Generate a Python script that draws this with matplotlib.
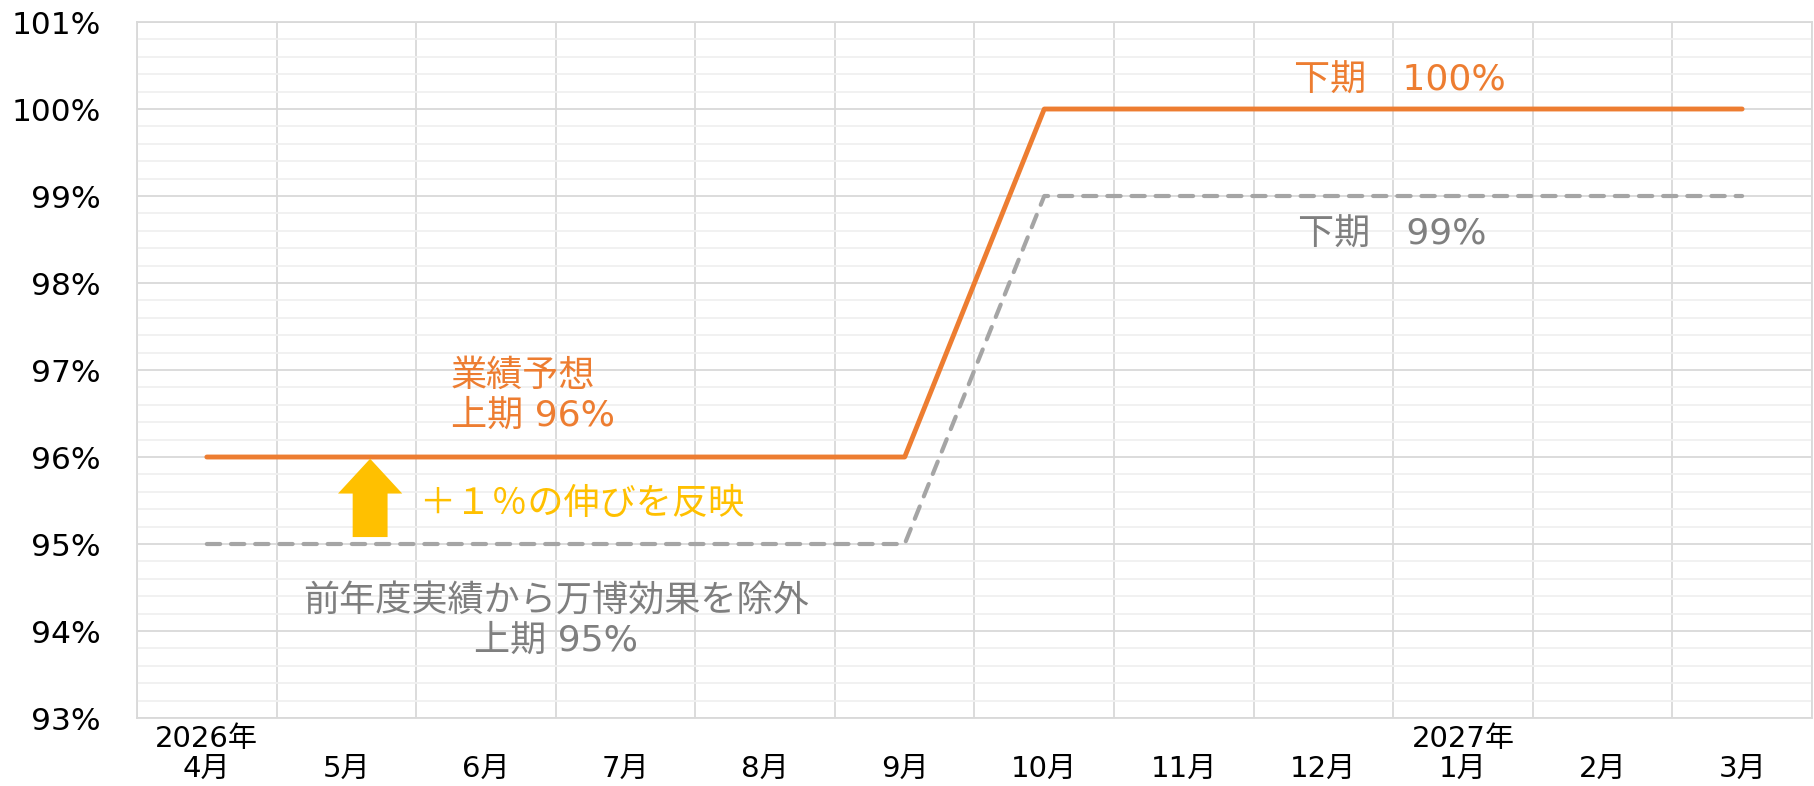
import numpy as np
import matplotlib
matplotlib.use('Agg')
import matplotlib.pyplot as plt
from matplotlib.ticker import MultipleLocator, FuncFormatter

# cyfry w stylu Verdana (DejaVu), znaki japońskie z Noto CJK
plt.rcParams['font.family'] = ['DejaVu Sans', 'Noto Sans CJK JP']

# --- dane ---
months = ['4月', '5月', '6月', '7月', '8月', '9月',
          '10月', '11月', '12月', '1月', '2月', '3月']
years = ['2026年', '', '', '', '', '', '', '', '', '2027年', '', '']
forecast = [96, 96, 96, 96, 96, 96, 100, 100, 100, 100, 100, 100]
prev_year = [95, 95, 95, 95, 95, 95, 99, 99, 99, 99, 99, 99]

ORANGE = '#ED7D31'
GREY_LINE = '#A5A5A5'
GREY_TEXT = '#7F7F7F'
YELLOW = '#FFC000'

fig = plt.figure(figsize=(18.15, 7.86), dpi=100)
ax = fig.add_axes([0.0755, 0.0865, 0.9228, 0.8855])

x = np.arange(len(months)) + 0.5

ax.plot(x, forecast, color=ORANGE, lw=3.5, solid_capstyle='round', zorder=3)
ax.plot(x, prev_year, color=GREY_LINE, lw=3.0, dashes=(3.2, 2.6),
        dash_capstyle='round', zorder=3)

ax.set_xlim(0, 12)
ax.set_ylim(93, 101)

# siatka: pionowe linie na granicach miesięcy, poziome co 1% i co 0.2%
ax.set_xticks(np.arange(0, 13), minor=False)
ax.set_xticklabels([])
ax.set_xticks(x, minor=True)
ax.set_xticklabels([f'{y}\n{m}' if y else f'\n{m}' for y, m in zip(years, months)],
                   minor=True, fontsize=21, linespacing=1.1)
ax.yaxis.set_major_locator(MultipleLocator(1))
ax.yaxis.set_minor_locator(MultipleLocator(0.2))
ax.yaxis.set_major_formatter(FuncFormatter(lambda v, p: f'{v:.0f}%'))

ax.grid(which='major', axis='both', color='#D9D9D9', lw=1.3)
ax.grid(which='minor', axis='y', color='#F0F0F0', lw=1.3)
ax.set_axisbelow(True)

ax.tick_params(axis='both', which='both', length=0)
ax.tick_params(axis='y', labelsize=22.5, pad=26)
ax.tick_params(axis='x', which='minor', pad=5)

for s in ax.spines.values():
    s.set_color('#D9D9D9')
    s.set_linewidth(1.3)

# --- adnotacje ---
ax.text(2.25, 96.70, '業績予想\n上期 96%', color=ORANGE, fontsize=26,
        ha='left', va='center', linespacing=1.22)
ax.text(8.29, 100.32, '下期　100%', color=ORANGE, fontsize=26,
        ha='left', va='center')
ax.text(8.32, 98.55, '下期　99%', color=GREY_TEXT, fontsize=26,
        ha='left', va='center')
ax.text(3.0, 94.12, '前年度実績から万博効果を除外\n上期 95%', color=GREY_TEXT,
        fontsize=26, ha='center', va='center', linespacing=1.2)
ax.text(2.02, 95.46, '＋１％の伸びを反映', color=YELLOW, fontsize=26,
        ha='left', va='center')

ax.arrow(1.67, 95.08, 0, 0.9, width=0.25, head_width=0.46, head_length=0.4,
         length_includes_head=True, color=YELLOW, lw=0, zorder=4)

fig.savefig('out.png', dpi=100)
